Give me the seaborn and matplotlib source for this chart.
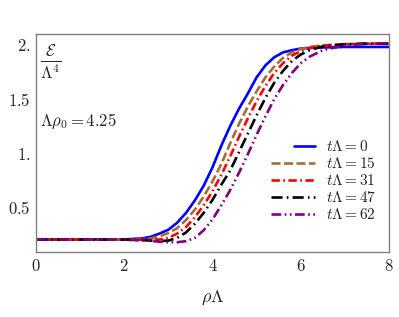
import numpy as np
import matplotlib
matplotlib.use("Agg")
import matplotlib.pyplot as plt
import pandas as pd
import seaborn as sns

# energy density profiles
rho = [0, 1, 2, 2.4, 2.6, 2.8, 3.0, 3.2, 3.4, 3.6, 3.8, 4.0, 4.2, 4.4,
       4.6, 4.8, 5.0, 5.2, 5.4, 5.6, 5.8, 6.0, 6.2, 6.5, 7.0, 7.5, 8.0]

e_t0 = [0.205, 0.205, 0.207, 0.215, 0.23, 0.26, 0.295, 0.36, 0.45, 0.565, 0.70, 0.87, 1.07, 1.25,
        1.41, 1.55, 1.70, 1.81, 1.885, 1.93, 1.95, 1.965, 1.97, 1.975, 1.98, 1.98, 1.98]
e_t15 = [0.205, 0.205, 0.205, 0.208, 0.215, 0.235, 0.265, 0.31, 0.385, 0.48, 0.60, 0.74, 0.90, 1.09,
         1.27, 1.43, 1.57, 1.70, 1.80, 1.88, 1.93, 1.96, 1.98, 1.995, 2.005, 2.01, 2.01]
e_t31 = [0.205, 0.205, 0.205, 0.204, 0.203, 0.205, 0.22, 0.26, 0.32, 0.41, 0.52, 0.65, 0.80, 0.97,
         1.15, 1.32, 1.48, 1.62, 1.74, 1.83, 1.90, 1.94, 1.97, 1.99, 2.005, 2.01, 2.01]
e_t47 = [0.205, 0.205, 0.204, 0.20, 0.195, 0.192, 0.195, 0.22, 0.27, 0.35, 0.45, 0.57, 0.71, 0.84,
         1.01, 1.18, 1.35, 1.51, 1.65, 1.76, 1.85, 1.91, 1.95, 1.985, 2.005, 2.01, 2.01]
e_t62 = [0.205, 0.205, 0.203, 0.198, 0.192, 0.185, 0.18, 0.18, 0.19, 0.22, 0.29, 0.39, 0.52, 0.66,
         0.82, 0.99, 1.17, 1.34, 1.50, 1.63, 1.74, 1.83, 1.89, 1.95, 1.995, 2.01, 2.015]

series = [e_t0, e_t15, e_t31, e_t47, e_t62]
labels = [r"$t\Lambda = 0$", r"$t\Lambda = 15$", r"$t\Lambda = 31$",
          r"$t\Lambda = 47$", r"$t\Lambda = 62$"]
colors = ["#0000ff", "#a0703c", "#ff0000", "#000000", "#800080"]
styles = ["-", (0, (6.5, 2.5)), (0, (6, 2.5, 1.2, 2.5)), (0, (8, 3, 1.2, 3)),
          (0, (7, 2.5, 1.2, 2.5, 1.2, 2.5))]

xticks = [0, 2, 4, 6, 8]
yticks = [0.5, 1.0, 1.5, 2.0]
yticklabels = ["0.5", "1.", "1.5", "2."]

sns.set_style("white")
plt.rcParams["mathtext.fontset"] = "cm"
plt.rcParams["font.family"] = ["DejaVu Serif"]
plt.rcParams["lines.scale_dashes"] = False

fig = plt.figure(figsize=(3.99, 3.17), dpi=100)
ax = fig.add_axes([0.09, 0.205, 0.885, 0.688])

for vals, lab, c, ls in zip(series, labels, colors, styles):
    df = pd.DataFrame({"x": rho, "y": vals})
    sns.lineplot(data=df, x="x", y="y", color=c, linestyle=ls, lw=1.9,
                 label=lab, ax=ax)

ax.set_xlim(0, 8)
ax.set_ylim(0.09, 2.1)
ax.set_xticks(xticks)
ax.set_xticklabels([f"${t}$" for t in xticks], fontsize=12)
ax.set_yticks(yticks)
ax.set_yticklabels([f"${t}$" for t in yticklabels], fontsize=12)
ax.tick_params(direction="in", length=3, color="#808080", width=0.8, pad=4)
for s in ax.spines.values():
    s.set_color("#808080")
    s.set_linewidth(1.0)

ax.set_xlabel(r"$\rho\Lambda$", fontsize=13, labelpad=10)
ax.set_ylabel("")
ax.text(0.012, 0.96, r"$\frac{\mathcal{E}}{\Lambda^4}$", transform=ax.transAxes,
        fontsize=17, va="top", ha="left")
ax.text(0.012, 0.60, r"$\Lambda\rho_0 = 4.25$", transform=ax.transAxes,
        fontsize=12, va="center", ha="left")

leg = ax.legend(loc="center right", bbox_to_anchor=(0.963, 0.326), frameon=False,
                fontsize=11, handlelength=2.9, labelspacing=0.13, handletextpad=0.7,
                borderpad=0, borderaxespad=0)
# the solid entry has a shorter key, as in the original
h0 = leg.get_lines()[0]
xd = np.asarray(h0.get_xdata(), dtype=float)
yd = np.asarray(h0.get_ydata(), dtype=float)
x0, x1 = xd.min(), xd.max()
h0.set_data([x0 + 0.52 * (x1 - x0), x1], [yd[0], yd[0]])

fig.savefig("out.png", dpi=100)
